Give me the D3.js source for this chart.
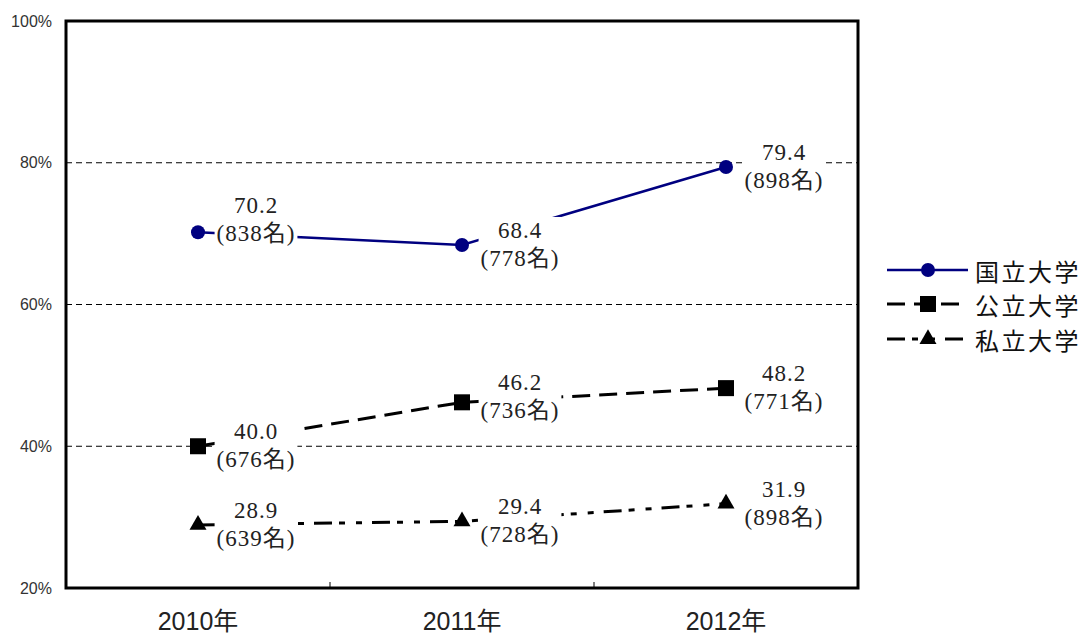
<!DOCTYPE html>
<html>
<head>
<meta charset="utf-8">
<script src="https://cdn.jsdelivr.net/npm/d3@7"></script>
<style>
  body { margin: 0; background: #fff; }
</style>
</head>
<body>
<div id="chart"></div>
<script>
const width = 1085;
const height = 635;

const years = ["2010年", "2011年", "2012年"];
const seriesNames = ["国立大学", "公立大学", "私立大学"];
const nationalRate = [70.2, 68.4, 79.4];
const nationalCount = [838, 778, 898];
const publicRate = [40.0, 46.2, 48.2];
const publicCount = [676, 736, 771];
const privateRate = [28.9, 29.4, 31.9];
const privateCount = [639, 728, 898];
const yTicks = [20, 40, 60, 80, 100];
const gridValues = [40, 60, 80];

const labelFont = "'Liberation Serif', 'Noto Sans CJK JP', serif";
const sansFont = "'Liberation Sans', 'Noto Sans CJK JP', sans-serif";
const cjkFont = "'Noto Sans CJK JP', sans-serif";

const series = [
    { name: seriesNames[0], rate: nationalRate, count: nationalCount, color: "#000080", width: 2.5, dash: null, marker: "circle", nudge: [-12, 0, 0] },
    { name: seriesNames[1], rate: publicRate, count: publicCount, color: "#000", width: 3, dash: "18,9", marker: "square", nudge: [0, -5, 0] },
    { name: seriesNames[2], rate: privateRate, count: privateCount, color: "#000", width: 3, dash: "18,7,6,11,6,10", marker: "triangle", nudge: [0, 0, 0] }
];

const plot = { left: 66, top: 21, right: 858, bottom: 588 };

const x = d3.scaleBand().domain(years).range([plot.left, plot.right]);
const y = d3.scaleLinear().domain([20, 100]).range([plot.bottom, plot.top]);
const cx = i => x(years[i]) + x.bandwidth() / 2;

const svg = d3.select("#chart").append("svg")
    .attr("width", width)
    .attr("height", height);

// gridlines
svg.append("g").selectAll("line")
    .data(gridValues)
    .join("line")
    .attr("x1", plot.left)
    .attr("x2", plot.right)
    .attr("y1", d => y(d))
    .attr("y2", d => y(d))
    .attr("stroke", "#000")
    .attr("stroke-width", 1)
    .attr("stroke-dasharray", "6,4");

// y axis labels
const yAxis = svg.append("g")
    .attr("transform", `translate(${plot.left},0)`)
    .call(d3.axisLeft(y).tickValues(yTicks).tickSize(0).tickPadding(14).tickFormat(d => d + "%"));
yAxis.select(".domain").remove();
yAxis.selectAll("text")
    .style("font-family", "'Liberation Sans', sans-serif")
    .style("font-size", "16px")
    .attr("fill", "#333");

// x axis labels
const xAxis = svg.append("g")
    .attr("transform", `translate(0,${plot.bottom})`)
    .call(d3.axisBottom(x).tickSize(0));
xAxis.select(".domain").remove();
xAxis.selectAll("text")
    .attr("y", 42)
    .attr("dy", null)
    .style("font-family", sansFont)
    .style("font-size", "25px")
    .attr("fill", "#222");

// category boundary ticks
svg.append("g").selectAll("line")
    .data(years.slice(1))
    .join("line")
    .attr("x1", d => x(d))
    .attr("x2", d => x(d))
    .attr("y1", plot.bottom)
    .attr("y2", plot.bottom - 6)
    .attr("stroke", "#000")
    .attr("stroke-width", 1);

const line = d3.line()
    .x((d, i) => cx(i))
    .y(d => y(d));

function drawMarker(g, type, color, px, py) {
    if (type === "circle") {
        g.append("circle").attr("cx", px).attr("cy", py).attr("r", 7).attr("fill", color);
    } else if (type === "square") {
        g.append("rect").attr("x", px - 8).attr("y", py - 8).attr("width", 16).attr("height", 16).attr("fill", color);
    } else {
        g.append("path")
            .attr("d", d3.symbol(d3.symbolTriangle, 125)())
            .attr("transform", `translate(${px},${py})`)
            .attr("fill", color);
    }
}

const seriesG = svg.append("g");
series.forEach(s => {
    seriesG.append("path")
        .datum(s.rate)
        .attr("d", line)
        .attr("fill", "none")
        .attr("stroke", s.color)
        .attr("stroke-width", s.width)
        .attr("stroke-dasharray", s.dash);
});

const markerG = svg.append("g");
series.forEach(s => {
    s.rate.forEach((v, i) => drawMarker(markerG, s.marker, s.color, cx(i), y(v)));
});

// data labels with white boxes
const labelG = svg.append("g");
series.forEach(s => {
    s.rate.forEach((v, i) => {
        const g = labelG.append("g");
        const lx = cx(i) + 58;
        const ly = y(v) + s.nudge[i] - 7;
        const t = g.append("text")
            .attr("x", lx)
            .attr("y", ly)
            .attr("text-anchor", "middle")
            .style("font-family", labelFont)
            .style("font-size", "23px")
            .style("letter-spacing", "1px")
            .attr("fill", "#222");
        t.append("tspan").attr("x", lx).text(v.toFixed(1));
        t.append("tspan").attr("x", lx).attr("dy", 28).text("(" + s.count[i] + "名)");
        const b = t.node().getBBox();
        g.insert("rect", "text")
            .attr("x", b.x - 2)
            .attr("y", b.y - 1)
            .attr("width", b.width + 4)
            .attr("height", b.height + 2)
            .attr("fill", "#fff");
    });
});

// plot frame
svg.append("rect")
    .attr("x", plot.left)
    .attr("y", plot.top)
    .attr("width", plot.right - plot.left)
    .attr("height", plot.bottom - plot.top)
    .attr("fill", "none")
    .attr("stroke", "#000")
    .attr("stroke-width", 3);

// legend
const legendRows = [270, 304, 339];
const legend = svg.append("g");
series.forEach((s, i) => {
    const ly = legendRows[i];
    legend.append("line")
        .attr("x1", 887).attr("x2", 968)
        .attr("y1", ly).attr("y2", ly)
        .attr("stroke", s.color)
        .attr("stroke-width", s.width)
        .attr("stroke-dasharray", s.dash);
    drawMarker(legend, s.marker, s.color, 928, ly);
    legend.append("text")
        .attr("x", 975)
        .attr("y", ly)
        .attr("dominant-baseline", "central")
        .style("font-family", cjkFont)
        .style("font-size", "24px")
        .style("letter-spacing", "2.5px")
        .attr("fill", "#111")
        .text(s.name);
});
</script>
</body>
</html>
